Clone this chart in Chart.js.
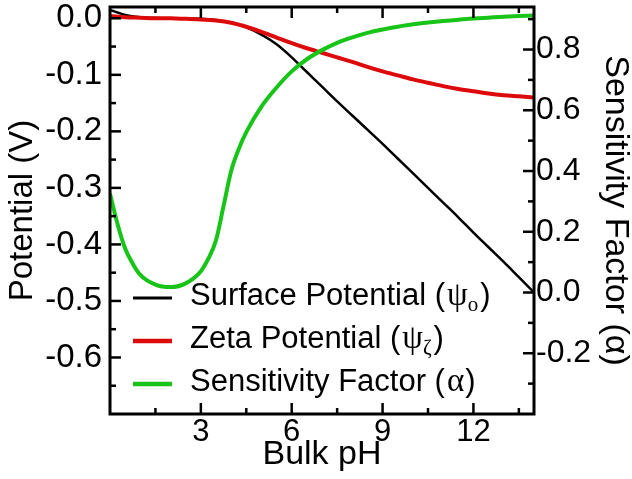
<!DOCTYPE html>
<html><head><meta charset="utf-8">
<script src="https://cdn.jsdelivr.net/npm/chart.js@4/dist/chart.umd.min.js"></script>
<style>html,body{margin:0;padding:0;background:#fff}#wrap{width:632px;height:479px;position:relative}</style>
</head><body><div id="wrap"><canvas id="c"></canvas></div>
<script>
// ---- data ----
const pH = [0,0.5,1,1.5,2,2.5,3,3.5,4,4.5,5,5.5,6,6.5,7,7.5,8,8.5,9,9.5,10,10.5,11,11.5,12,12.5,13,13.5,14];
const surfacePotential = [0.015,0.006,0.002,0.0005,0,0,-0.001,-0.003,-0.008,-0.016,-0.029,-0.046,-0.069,-0.095,-0.121,-0.147,-0.172,-0.197,-0.222,-0.248,-0.274,-0.300,-0.326,-0.352,-0.379,-0.405,-0.431,-0.458,-0.485];
const zetaPotential = [0.004,0.002,0.001,0,0,-0.001,-0.002,-0.004,-0.008,-0.015,-0.024,-0.034,-0.044,-0.053,-0.061,-0.069,-0.077,-0.086,-0.094,-0.101,-0.108,-0.114,-0.120,-0.125,-0.129,-0.133,-0.136,-0.138,-0.140];
const sensPH = [0,0.25,0.5,0.75,1,1.5,2,2.5,3,3.25,3.5,3.75,4,4.25,4.5,5,5.5,6,6.5,7,7.5,8,8.5,9,9.5,10,10.5,11,11.5,12,12.5,13,13.5,14];
const sensitivityFactor = [0.325,0.225,0.145,0.095,0.058,0.026,0.018,0.030,0.070,0.112,0.172,0.285,0.400,0.472,0.528,0.612,0.675,0.728,0.768,0.798,0.822,0.840,0.855,0.866,0.875,0.883,0.889,0.894,0.898,0.902,0.905,0.908,0.910,0.912];

const xTickLabels = [3,6,9,12];
const xMinorTicks = [1.5,4.5,7.5,10.5,13.5];
const leftTickLabels = [0,-0.1,-0.2,-0.3,-0.4,-0.5,-0.6];
const leftMinorTicks = [-0.05,-0.15,-0.25,-0.35,-0.45,-0.55,-0.65];
const rightTickLabels = [0.8,0.6,0.4,0.2,0,-0.2];
const rightMinorTicks = [0.9,0.7,0.5,0.3,0.1,-0.1,-0.3];

const seriesNames = ['Surface Potential','Zeta Potential','Sensitivity Factor'];
const seriesSymbols = ['\u03C8','\u03C8','\u03B1'];
const seriesSubs = ['o','\u03B6',''];
const seriesColors = ['#000000','#dc0a0a','#18c418'];

const SANS = '"Liberation Sans", Arial, sans-serif';
const SERIF = '"Liberation Serif", "Times New Roman", serif';

const toXY = (xs, ys) => xs.map((x,i)=>({x, y: ys[i]}));

const frameTicks = {
  id: 'frameTicks',
  afterDraw(chart){
    const {ctx, chartArea:a, scales} = chart;
    const X = scales.x, YL = scales.y, YR = scales.y1;
    const MAJ = 11, MIN = 6;
    ctx.save();
    ctx.strokeStyle = '#000';
    ctx.lineWidth = 2.5;
    ctx.lineCap = 'butt';
    const seg = (x1,y1,x2,y2)=>{ctx.beginPath();ctx.moveTo(x1,y1);ctx.lineTo(x2,y2);ctx.stroke();};
    const xt = (v,len)=>{const p=X.getPixelForValue(v); seg(p,a.bottom,p,a.bottom-len); seg(p,a.top,p,a.top+len);};
    xTickLabels.forEach(v=>xt(v,MAJ)); xMinorTicks.forEach(v=>xt(v,MIN));
    const lt = (v,len)=>{const p=YL.getPixelForValue(v); seg(a.left,p,a.left+len,p);};
    leftTickLabels.forEach(v=>lt(v,MAJ)); leftMinorTicks.forEach(v=>lt(v,MIN));
    const rt = (v,len)=>{const p=YR.getPixelForValue(v); seg(a.right,p,a.right-len,p);};
    rightTickLabels.forEach(v=>rt(v,MAJ)); rightMinorTicks.forEach(v=>rt(v,MIN));
    ctx.lineWidth = 3;
    ctx.strokeRect(a.left, a.top, a.right-a.left, a.bottom-a.top);
    ctx.restore();
  }
};

const customLegend = {
  id: 'customLegend',
  afterDraw(chart){
    const {ctx, chartArea:a} = chart;
    const x0 = a.left + 23, x1 = a.left + 62, tx = a.left + 80;
    const lineY = [298, 341, 384];
    const baseY = [305, 348, 391];
    ctx.save();
    chart.data.datasets.forEach((ds,i)=>{
      ctx.strokeStyle = ds.borderColor;
      ctx.lineWidth = ds.borderWidth + 0.5;
      ctx.beginPath(); ctx.moveTo(x0, lineY[i]); ctx.lineTo(x1, lineY[i]); ctx.stroke();
      ctx.fillStyle = '#000';
      ctx.textBaseline = 'alphabetic';
      ctx.textAlign = 'left';
      let x = tx;
      ctx.font = '31px ' + SANS;
      const t1 = seriesNames[i] + ' (';
      ctx.fillText(t1, x, baseY[i]); x += ctx.measureText(t1).width + 2;
      ctx.font = '33px ' + SERIF;
      ctx.fillText(seriesSymbols[i], x, baseY[i]); x += ctx.measureText(seriesSymbols[i]).width;
      if (seriesSubs[i]) {
        ctx.font = '21px ' + SERIF;
        ctx.fillText(seriesSubs[i], x, baseY[i]+6); x += ctx.measureText(seriesSubs[i]).width + 2;
      } else { x += 1; }
      ctx.font = '31px ' + SANS;
      ctx.fillText(')', x, baseY[i]);
    });
    ctx.restore();
  }
};

const fmt1 = v => (Math.abs(v) < 1e-9 ? 0 : v).toFixed(1);

new Chart(document.getElementById('c'), {
  type: 'line',
  data: {
    datasets: [
      {label: seriesNames[0], data: toXY(pH, surfacePotential), borderColor: seriesColors[0], borderWidth: 2.5, yAxisID: 'y', order: 2},
      {label: seriesNames[1], data: toXY(pH, zetaPotential), borderColor: seriesColors[1], borderWidth: 4, yAxisID: 'y', order: 1},
      {label: seriesNames[2], data: toXY(sensPH, sensitivityFactor), borderColor: seriesColors[2], borderWidth: 4, yAxisID: 'y1', order: 0}
    ]
  },
  options: {
    responsive: true,
    maintainAspectRatio: false,
    animation: false,
    layout: {padding: {top: 7, left: 0, right: 0, bottom: 0}},
    elements: {point: {radius: 0}, line: {cubicInterpolationMode: 'monotone', fill: false}},
    plugins: {legend: {display: false}, tooltip: {enabled: false}},
    scales: {
      x: {
        type: 'linear', position: 'bottom', min: 0, max: 14,
        grid: {display: false, drawTicks: false, tickLength: 0},
        border: {display: false},
        afterBuildTicks: s => { s.ticks = xTickLabels.map(v=>({value:v})); },
        afterFit: s => { s.height = 65; s.paddingLeft = 0; s.paddingRight = 0; },
        ticks: {autoSkip: false, maxRotation: 0, padding: 0, color: '#000', font: {family: SANS, size: 31}, callback: v => String(v)},
        title: {display: true, text: 'Bulk pH', color: '#000', font: {family: SANS, size: 34, lineHeight: 1}, padding: {top: 0, bottom: 7}}
      },
      y: {
        type: 'linear', position: 'left', min: -0.7, max: 0.02,
        grid: {display: false, drawTicks: false, tickLength: 0},
        border: {display: false},
        afterBuildTicks: s => { s.ticks = leftTickLabels.map(v=>({value:v})); },
        afterFit: s => { s.width = 110; s.paddingTop = 0; s.paddingBottom = 0; },
        ticks: {autoSkip: false, padding: 8, color: '#000', font: {family: SANS, size: 33}, callback: v => fmt1(v)},
        title: {display: true, text: 'Potential (V)', color: '#000', font: {family: SANS, size: 33, lineHeight: 1}, padding: {top: 6, bottom: 0}}
      },
      y1: {
        type: 'linear', position: 'right', min: -0.4, max: 0.94,
        grid: {display: false, drawTicks: false, tickLength: 0},
        border: {display: false},
        afterBuildTicks: s => { s.ticks = rightTickLabels.map(v=>({value:v})); },
        afterFit: s => { s.width = 98; s.paddingTop = 0; s.paddingBottom = 0; },
        ticks: {autoSkip: false, padding: 2, color: '#000', font: {family: SANS, size: 32}, callback: v => fmt1(v)},
        title: {display: true, text: 'Sensitivity Factor (\u03B1)', color: '#000', font: {family: SANS, size: 34, lineHeight: 1}, padding: {top: 0, bottom: 0}}
      }
    }
  },
  plugins: [frameTicks, customLegend]
});
</script>
</body></html>
